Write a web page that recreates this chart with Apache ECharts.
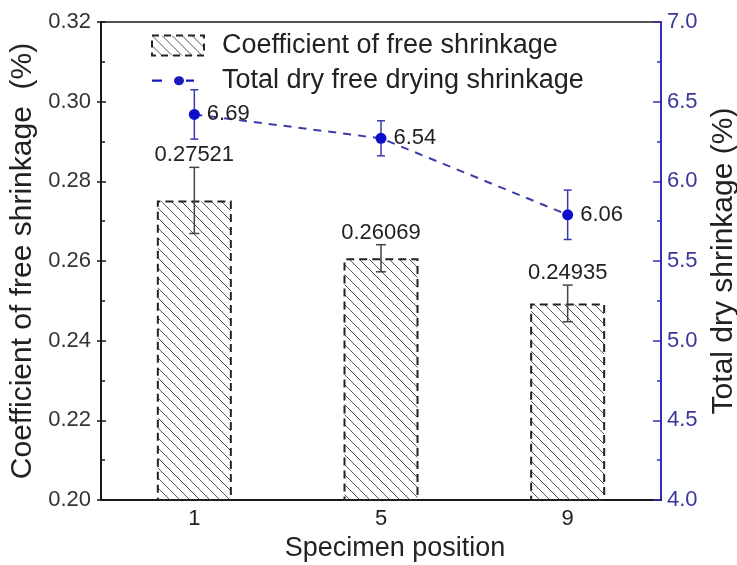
<!DOCTYPE html>
<html>
<head>
<meta charset="utf-8">
<script src="https://cdn.jsdelivr.net/npm/echarts@6/dist/echarts.min.js"></script>
<style>
  html, body { margin: 0; background: #fff; }
  #chart { width: 737px; height: 565px; }
</style>
</head>
<body>
<div id="chart"></div>
<script>
const positions = ['1', '5', '9'];
const coefValues = [0.27521, 0.26069, 0.24935];
const coefErrors = [0.0083, 0.0034, 0.0046];
const coefLabels = ['0.27521', '0.26069', '0.24935'];
const dryValues = [6.42, 6.27, 5.79];
const dryErrors = [0.155, 0.11, 0.155];
const dryLabels = ['6.69', '6.54', '6.06'];

const FONT = '"Liberation Sans", Arial, sans-serif';
const BLUE_AXIS = '#2f2fb5';
const BLUE_TEXT = '#38389a';

// hatch tile for the bars
const tile = document.createElement('canvas');
tile.width = 10;
tile.height = 10;
const ctx = tile.getContext('2d');
ctx.strokeStyle = '#555';
ctx.lineWidth = 1;
[-10, 0, 10].forEach((o) => {
  ctx.beginPath();
  ctx.moveTo(o, 0);
  ctx.lineTo(o + 10, 10);
  ctx.stroke();
});

// dash - dot - dash legend icon (tiny corner specks keep the box size)
const lineIcon = 'path://M0,0h0.1v0.1h-0.1z M51.9,21.9h0.1v0.1h-0.1z M0,10h10v2.4h-10z ' +
  'M22,11.2a5,5 0 1,0 10,0a5,5 0 1,0 -10,0z M34,10h8v2.4h-8z';

const coefErrData = positions.map((p, i) => [i, coefValues[i] - coefErrors[i], coefValues[i] + coefErrors[i]]);
const dryErrData = positions.map((p, i) => [i, dryValues[i] - dryErrors[i], dryValues[i] + dryErrors[i]]);

function errorBars(capHalf, color, labels) {
  return (params, api) => {
    const lo = api.coord([api.value(0), api.value(1)]);
    const hi = api.coord([api.value(0), api.value(2)]);
    const style = { stroke: color, lineWidth: 1.5 };
    const children = [
      { type: 'line', shape: { x1: lo[0], y1: lo[1], x2: hi[0], y2: hi[1] }, style },
      { type: 'line', shape: { x1: lo[0] - capHalf, y1: lo[1], x2: lo[0] + capHalf, y2: lo[1] }, style },
      { type: 'line', shape: { x1: hi[0] - capHalf, y1: hi[1], x2: hi[0] + capHalf, y2: hi[1] }, style },
    ];
    if (labels) {
      children.push({
        type: 'text',
        x: hi[0],
        y: hi[1] - 1,
        style: {
          text: labels[params.dataIndex],
          font: '22px ' + FONT,
          fill: '#222',
          align: 'center',
          verticalAlign: 'bottom',
        },
      });
    }
    return { type: 'group', children };
  };
}

const chart = echarts.init(document.getElementById('chart'));
chart.setOption({
  animation: false,
  textStyle: { fontFamily: FONT },
  grid: {
    left: 101, right: 76, top: 22, bottom: 65,
    outerBoundsMode: 'none',
    containLabel: false,
    show: true, borderColor: '#1a1a1a', borderWidth: 1.5,
  },
  legend: {
    orient: 'vertical',
    left: 146,
    top: 27,
    itemWidth: 52,
    itemHeight: 20,
    itemGap: 8,
    symbolKeepAspect: false,
    textStyle: { fontSize: 27, color: '#222', padding: [0, 0, 0, 13] },
    data: [
      {
        name: 'Coefficient of free shrinkage',
        icon: 'rect',
        itemStyle: { borderColor: '#222', borderWidth: 2, borderType: [7, 5] },
      },
      {
        name: 'Total dry free drying shrinkage',
        icon: lineIcon,
        itemStyle: { color: '#1a1ac0' },
      },
    ],
  },
  xAxis: {
    type: 'category',
    data: positions,
    axisLine: { lineStyle: { color: '#1a1a1a', width: 2 } },
    axisTick: { show: false },
    axisLabel: { fontSize: 22, color: '#222', margin: 8 },
    name: 'Specimen position',
    nameLocation: 'middle',
    nameGap: 34,
    nameTextStyle: { fontSize: 27, color: '#222', padding: [0, 0, 0, 28] },
  },
  yAxis: [
    {
      type: 'value',
      position: 'left',
      min: 0.2, max: 0.32, interval: 0.02,
      axisLine: { show: true, lineStyle: { color: '#1a1a1a', width: 2 } },
      axisTick: { show: true, inside: true, length: 5, lineStyle: { color: '#1a1a1a', width: 1.5 } },
      minorTick: { show: true, splitNumber: 2, length: 4, lineStyle: { color: '#1a1a1a', width: 1.5 } },
      splitLine: { show: false },
      axisLabel: { fontSize: 22, color: '#333', margin: 10, formatter: (v) => v.toFixed(2) },
      name: 'Coefficient of free shrinkage  (%)',
      nameLocation: 'middle',
      nameRotate: 90,
      nameGap: 48,
      nameTextStyle: { fontSize: 30, color: '#222' },
    },
    {
      type: 'value',
      position: 'right',
      min: 4, max: 7, interval: 0.5,
      axisLine: { show: true, lineStyle: { color: BLUE_AXIS, width: 2 } },
      axisTick: { show: true, inside: true, length: 8, lineStyle: { color: BLUE_AXIS, width: 1.5 } },
      minorTick: { show: true, splitNumber: 2, length: 4, lineStyle: { color: BLUE_AXIS, width: 1.5 } },
      splitLine: { show: false },
      axisLabel: { fontSize: 22, color: BLUE_TEXT, margin: 6, formatter: (v) => v.toFixed(1) },
      name: 'Total dry shrinkage (%)',
      nameLocation: 'middle',
      nameRotate: 90,
      nameGap: 43,
      nameTextStyle: { fontSize: 30, color: '#222' },
    },
    {
      // outer half of the crossing ticks on the left
      type: 'value',
      position: 'left',
      min: 0.2, max: 0.32, interval: 0.02,
      axisLine: { show: false },
      axisTick: { show: true, inside: false, length: 4, lineStyle: { color: '#1a1a1a', width: 1.5 } },
      axisLabel: { show: false },
      splitLine: { show: false },
    },
  ],
  series: [
    {
      name: 'Coefficient of free shrinkage',
      type: 'bar',
      data: coefValues,
      barWidth: 75,
      itemStyle: {
        color: { image: tile, repeat: 'repeat' },
        borderColor: '#222',
        borderWidth: 2,
        borderType: [8, 5],
      },
      z: 2,
    },
    {
      type: 'custom',
      data: coefErrData,
      yAxisIndex: 0,
      renderItem: errorBars(5, '#444', coefLabels),
      z: 3,
    },
    {
      name: 'Total dry free drying shrinkage',
      type: 'line',
      yAxisIndex: 1,
      data: dryValues,
      symbol: 'circle',
      symbolSize: 11,
      itemStyle: { color: '#0d0dcc' },
      lineStyle: { color: '#3c3ca8', width: 2, type: [8, 7] },
      label: {
        show: true,
        position: 'right',
        distance: 7,
        fontSize: 22,
        color: '#222',
        formatter: (p) => dryLabels[p.dataIndex],
      },
      z: 5,
    },
    {
      type: 'custom',
      data: dryErrData,
      yAxisIndex: 1,
      renderItem: errorBars(4, '#3a3ab0', null),
      z: 4,
    },
  ],
});
</script>
</body>
</html>
